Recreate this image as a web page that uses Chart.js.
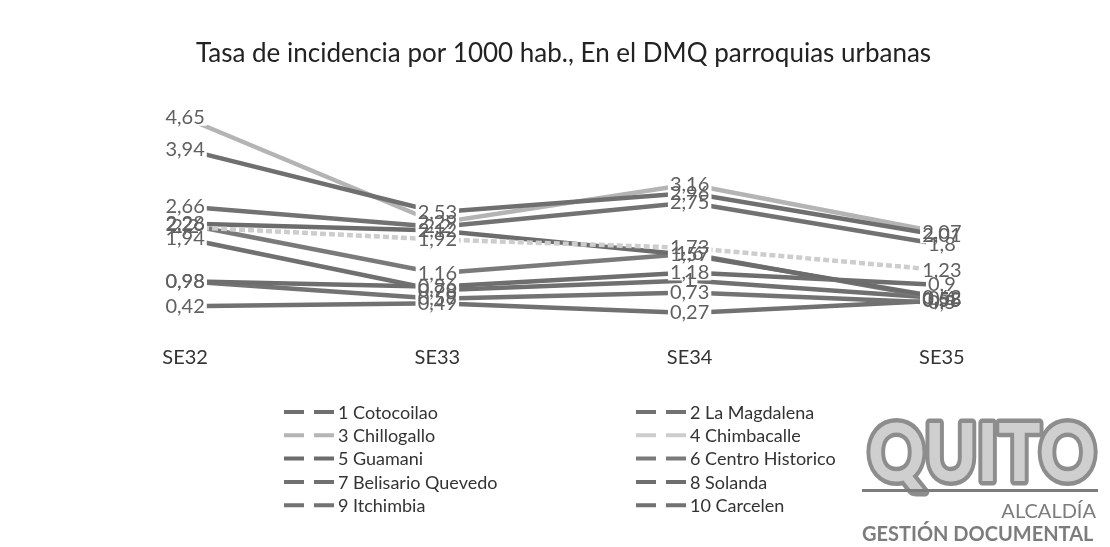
<!DOCTYPE html>
<html>
<head>
<meta charset="utf-8">
<script src="https://cdn.jsdelivr.net/npm/chart.js@4.4.1/dist/chart.umd.min.js"></script>
<style>
  html, body { margin: 0; padding: 0; background: #fff; }
  #wrap { width: 1110px; height: 547px; }
</style>
</head>
<body>
<div id="wrap"><canvas id="chart"></canvas></div>
<script>
// semanas epidemiologicas
const weeks = ['SE32', 'SE33', 'SE34', 'SE35'];

// tasa por 1000 hab.
const cotocollao = [3.94, 2.53, 2.96, 2.01];
const laMagdalena = [2.66, 2.2, 2.75, 1.8];
const chillogallo = [4.65, 2.29, 3.16, 2.07];
const chimbacalle = [2.2, 1.92, 1.73, 1.23];
const guamani = [2.28, 2.12, 1.57, 0.62];
const centroHistorico = [2.26, 1.16, 1.6, 0.58];
const belisario = [1.94, 0.78, 1, 0.6];
const solanda = [0.98, 0.86, 1.18, 0.9];
const itchimbia = [0.98, 0.59, 0.73, 0.5];
const carcelen = [0.42, 0.49, 0.27, 0.55];

const names = ['1 Cotocoilao', '2 La Magdalena', '3 Chillogallo', '4 Chimbacalle', '5 Guamani',
  '6 Centro Historico', '7 Belisario Quevedo', '8 Solanda', '9 Itchimbia', '10 Carcelen'];
const series = [cotocollao, laMagdalena, chillogallo, chimbacalle, guamani,
  centroHistorico, belisario, solanda, itchimbia, carcelen];
const colors = ['#6f6f6f', '#727272', '#b4b4b4', '#cdcdcd', '#6c6c6c',
  '#7a7a7a', '#707070', '#6e6e6e', '#737373', '#717171'];

const FONT = 'Lato';

function fmt(v) {
  return String(v).replace('.', ',');
}

// etiquetas de datos con fondo blanco (como en Excel)
const dataLabels = {
  id: 'dataLabels',
  afterDatasetsDraw(chart) {
    const ctx = chart.ctx;
    ctx.save();
    ctx.font = '20px ' + FONT;
    ctx.textAlign = 'center';
    ctx.textBaseline = 'middle';
    const items = [];
    chart.data.datasets.forEach((ds, i) => {
      const meta = chart.getDatasetMeta(i);
      meta.data.forEach((pt, j) => {
        items.push({ x: pt.x, y: pt.y, t: fmt(ds.data[j]) });
      });
    });
    ctx.fillStyle = '#fff';
    items.forEach(it => {
      const w = ctx.measureText(it.t).width;
      ctx.fillRect(it.x - w / 2 - 2, it.y - 8, w + 4, 16);
    });
    ctx.fillStyle = '#606060';
    items.forEach(it => ctx.fillText(it.t, it.x, it.y));
    ctx.restore();
  }
};

// leyenda en dos columnas y sello
const legendAndStamp = {
  id: 'legendAndStamp',
  afterDraw(chart) {
    const ctx = chart.ctx;
    ctx.save();
    ctx.font = '18px ' + FONT;
    ctx.textBaseline = 'middle';
    names.forEach((n, i) => {
      const col = i % 2;
      const row = Math.floor(i / 2);
      const x = col === 0 ? 284 : 636;
      const y = 412 + row * 23.3;
      ctx.strokeStyle = colors[i];
      ctx.lineWidth = 4;
      ctx.setLineDash([20, 10]);
      ctx.beginPath();
      ctx.moveTo(x, y);
      ctx.lineTo(x + 52, y);
      ctx.stroke();
      ctx.setLineDash([]);
      ctx.fillStyle = '#333';
      ctx.fillText(n, x + 54, y + 1);
    });

    // sello Quito - Gestion Documental
    ctx.font = '900 80px ' + FONT;
    ctx.textBaseline = 'alphabetic';
    const w = ctx.measureText('QUITO').width;
    ctx.translate(868, 481);
    ctx.scale(228 / w, 1);
    ctx.lineWidth = 9;
    ctx.lineJoin = 'round';
    ctx.strokeStyle = '#8d8d8d';
    ctx.strokeText('QUITO', 0, 0);
    ctx.fillStyle = '#cfcfcf';
    ctx.fillText('QUITO', 0, 0);
    ctx.setTransform(1, 0, 0, 1, 0, 0);
    ctx.fillStyle = '#7c7c7c';
    ctx.fillRect(862, 489, 236, 3);
    ctx.font = '20px ' + FONT;
    ctx.textAlign = 'right';
    ctx.fillText('ALCALDÍA', 1096, 518);
    ctx.font = 'bold 20px ' + FONT;
    ctx.textAlign = 'left';
    ctx.fillText('GESTIÓN DOCUMENTAL', 862, 541);
    ctx.restore();
  }
};

new Chart(document.getElementById('chart'), {
  type: 'line',
  data: {
    labels: weeks,
    datasets: series.map((d, i) => ({
      label: names[i],
      data: d,
      borderColor: colors[i],
      backgroundColor: colors[i],
      borderWidth: 4.5,
      pointRadius: 0,
      tension: 0,
      fill: false,
      borderDash: i === 3 ? [6, 3] : []
    }))
  },
  options: {
    responsive: true,
    maintainAspectRatio: false,
    animation: false,
    layout: { padding: { left: 59, right: 42, top: 0, bottom: 156 } },
    plugins: {
      legend: { display: false },
      tooltip: { enabled: false },
      title: {
        display: true,
        text: 'Tasa de incidencia por 1000 hab., En el DMQ parroquias urbanas',
        color: '#222',
        font: { family: FONT, size: 26, weight: 'normal' },
        padding: { top: 38, bottom: 33 }
      }
    },
    scales: {
      x: {
        offset: true,
        grid: { display: false, drawTicks: false },
        border: { display: false },
        ticks: { color: '#333', font: { family: FONT, size: 20 }, padding: 21 }
      },
      y: {
        display: false,
        min: 0,
        max: 5
      }
    }
  },
  plugins: [dataLabels, legendAndStamp]
});
</script>
</body>
</html>
